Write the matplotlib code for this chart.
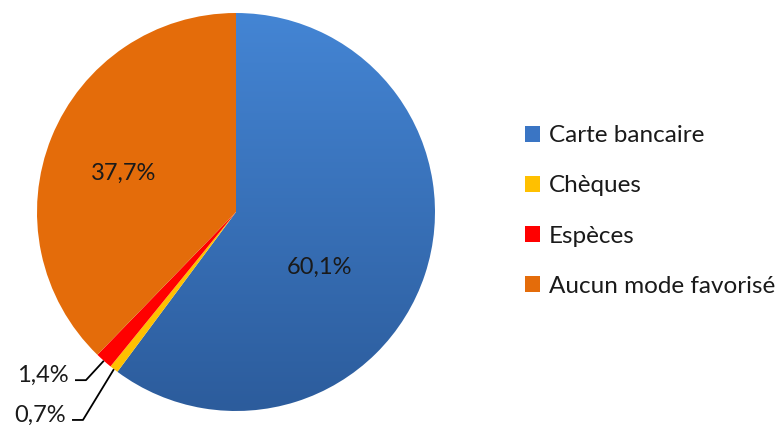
import numpy as np
import matplotlib.pyplot as plt
from matplotlib.patches import Patch
from matplotlib.colors import LinearSegmentedColormap

# Payment mode shares (%)
labels = ["Carte bancaire", "Chèques", "Espèces", "Aucun mode favorisé"]
values = [60.1, 0.7, 1.4, 37.7]
pct_text = ["60,1%", "0,7%", "1,4%", "37,7%"]
colors = ["#3a75c4", "#ffc000", "#ff0000", "#e46c0a"]

plt.rcParams['font.family'] = ['Lato', 'DejaVu Sans']

fig = plt.figure(figsize=(7.79, 4.25), dpi=100)
# axes box sized so the circle sits where it does in the original
ax = fig.add_axes([37 / 779, 1 - 411 / 425, 398 / 779, 398 / 425])

wedges, _ = ax.pie(values, colors=colors, startangle=90, counterclock=False,
                   radius=1.0, wedgeprops=dict(linewidth=0))
ax.set_xlim(-1, 1)
ax.set_ylim(-1, 1)
ax.set_aspect('equal')
ax.axis('off')

# blue wedge gets a light-to-dark vertical gradient
grad = np.linspace(0, 1, 256).reshape(-1, 1)
blue_cmap = LinearSegmentedColormap.from_list("b", ["#2c5c9c", "#4485d4"])
wedges[0].set_facecolor("none")
im = ax.imshow(grad, cmap=blue_cmap, extent=[-1, 1, -1, 1], origin='lower',
               aspect='auto', zorder=0.5)
im.set_clip_path(wedges[0])

# mid angle of each slice
total = sum(values)
angles = []
a = 90.0
for v in values:
    span = 360.0 * v / total
    angles.append(np.deg2rad(a - span / 2))
    a -= span

fs = 17
# inside labels (big slices)
ax.text(0.422, -0.276, pct_text[0], ha='center', va='center', fontsize=fs, color='#1a1a1a')
ax.text(-0.563, 0.196, pct_text[3], ha='center', va='center', fontsize=fs, color='#1a1a1a')

# small slices: leader lines with a short horizontal elbow
small = {2: (-0.754, -0.845), 1: (-0.769, -1.045)}
for i, (ex, ey) in small.items():
    px, py = np.cos(angles[i]), np.sin(angles[i])
    ax.plot([px, ex, ex - 0.055], [py, ey, ey], color='black', lw=1.3,
            clip_on=False, solid_capstyle='butt')
    ax.text(ex - 0.085, ey + 0.025, pct_text[i], ha='right', va='center',
            fontsize=fs, color='#1a1a1a', clip_on=False)

handles = [Patch(facecolor="#3a75c4"), Patch(facecolor=colors[1]),
           Patch(facecolor=colors[2]), Patch(facecolor=colors[3])]
fig.legend(handles, labels, loc='center left', bbox_to_anchor=(525 / 779, 1 - 211 / 425),
           frameon=False, fontsize=17.5, handlelength=0.62, handleheight=0.62,
           handletextpad=0.35, labelspacing=1.2, borderpad=0, borderaxespad=0,
           labelcolor='#1a1a1a')

fig.savefig("out.png", dpi=100)
